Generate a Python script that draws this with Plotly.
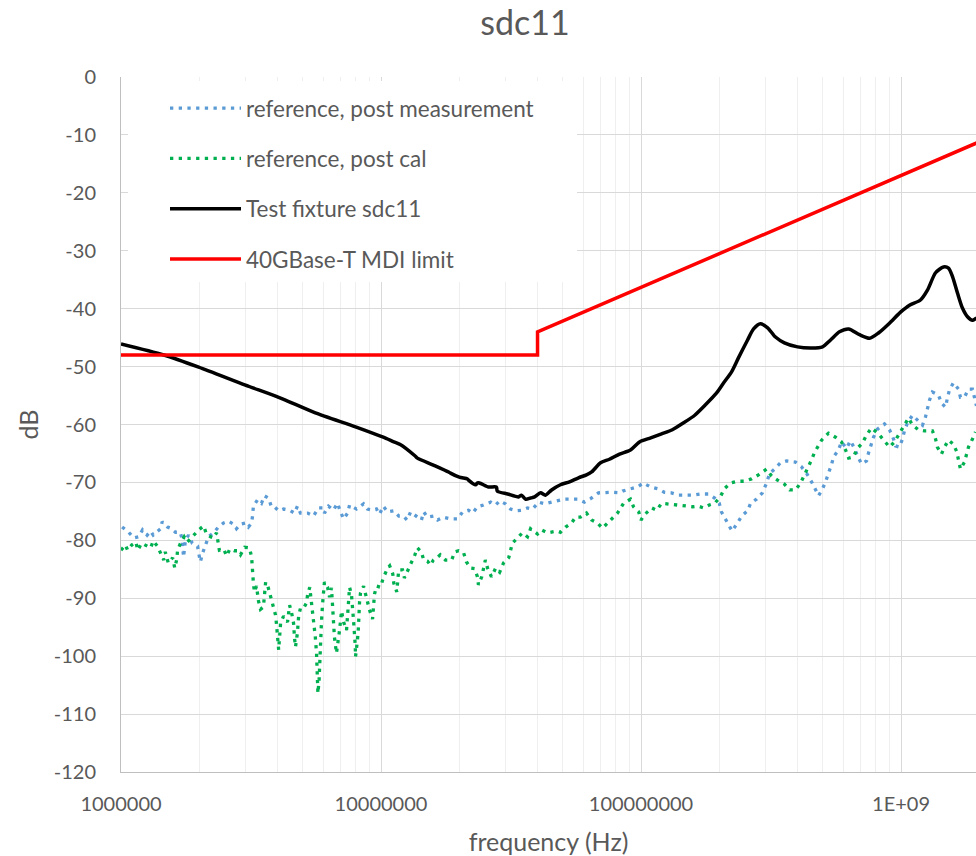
import plotly.graph_objects as go

# ---------------- data (frequency in MHz, sdc11 in dB) ----------------
ref_meas_freq_mhz = [
    1.01, 1.07, 1.12, 1.17, 1.21, 1.26, 1.30, 1.33, 1.42, 1.44, 1.51, 1.55, 1.62, 1.69, 1.72, 1.74,
    1.77, 1.82, 1.88, 1.97, 1.99, 2.02, 2.06, 2.11, 2.17, 2.27, 2.37, 2.48, 2.59, 2.71, 2.78, 2.88,
    3.01, 3.09, 3.18, 3.21, 3.23, 3.35, 3.47, 3.56, 3.69, 3.79, 3.89, 4.04, 4.22, 4.45, 4.65, 4.77,
    4.90, 5.22, 5.50, 5.75, 6.01, 6.06, 6.28, 6.56, 6.80, 6.99, 7.18, 7.44, 7.57, 8.05, 8.57, 8.87,
    9.28, 9.61, 9.87, 10.2, 10.6, 11.2, 11.7, 12.2, 12.6, 13.0, 13.7, 14.3, 14.6, 15.1, 15.9, 16.5,
    17.4, 18.5, 19.7, 20.6, 21.7, 22.5, 23.5, 24.8, 26.4, 27.6, 28.6, 30.1, 31.5, 33.2, 34.7, 36.6,
    38.3, 40.4, 42.6, 44.9, 47.3, 50.4, 54.1, 57.0, 60.6, 64.0, 68.6, 72.4, 77.0, 82.7, 84.9, 91.1,
    96.9, 102, 109, 116, 123, 131, 139, 150, 159, 169, 182, 192, 200, 204, 211, 219,
    224, 235, 244, 257, 264, 278, 293, 304, 312, 326, 344, 363, 393, 414, 433, 453,
    469, 482, 499, 513, 526, 540, 550, 575, 590, 617, 639, 662, 680, 705, 737, 750,
    784, 812, 864, 903, 936, 953, 987, 1013, 1031, 1059, 1107, 1157, 1210, 1242, 1264, 1287,
    1321, 1393, 1431, 1483, 1509, 1536, 1591, 1664, 1693, 1754, 1818, 1883, 1916, 1951,
]
ref_meas_db = [
    -77.7, -78.6, -79.6, -79.4, -78.2, -79.1, -78.4, -79.1, -78.0, -76.8, -77.7, -77.9, -78.6, -78.6, -79.9, -82.9,
    -79.9, -79.1, -80.5, -81.0, -82.2, -83.7, -82.2, -80.8, -79.4, -78.7, -77.7, -77.0, -76.7, -77.2, -78.0, -77.2,
    -77.0, -77.7, -77.0, -75.6, -74.1, -73.0, -73.6, -72.3, -72.7, -74.2, -74.2, -74.9, -74.6, -74.8, -75.3, -74.1,
    -75.3, -75.3, -75.8, -74.4, -74.4, -75.3, -74.1, -74.8, -73.6, -75.1, -76.3, -75.3, -73.9, -74.6, -73.7, -74.6,
    -74.8, -74.6, -75.5, -74.1, -75.1, -74.9, -75.8, -75.8, -76.5, -75.1, -75.8, -76.5, -75.1, -76.0, -75.8, -76.5,
    -76.0, -76.3, -76.3, -75.1, -74.8, -75.3, -74.2, -73.9, -73.4, -73.9, -73.2, -73.7, -74.6, -74.9, -74.8, -74.4,
    -74.6, -73.4, -73.7, -73.4, -73.2, -72.9, -72.9, -72.9, -73.4, -72.8, -71.8, -71.7, -71.7, -71.8, -71.5, -71.1,
    -70.8, -70.1, -70.8, -71.1, -71.7, -71.8, -72.2, -72.2, -72.2, -72.0, -72.0, -72.7, -73.6, -75.1, -76.3, -77.7,
    -78.4, -77.0, -75.8, -74.9, -73.6, -72.9, -71.8, -70.1, -68.5, -67.7, -66.6, -66.3, -66.5, -67.3, -68.4, -69.9,
    -71.1, -72.3, -71.1, -69.9, -68.4, -67.0, -65.6, -64.4, -63.0, -64.1, -62.8, -64.1, -65.4, -66.8, -66.3, -64.9,
    -62.2, -60.8, -59.9, -60.9, -62.5, -63.7, -63.9, -62.5, -61.1, -59.7, -58.4, -59.2, -60.1, -58.7, -57.2, -55.8,
    -54.4, -54.9, -56.3, -57.0, -55.4, -54.0, -52.8, -53.9, -55.3, -55.3, -53.9, -53.9, -55.3, -56.8,
]

ref_cal_freq_mhz = [
    1.00, 1.04, 1.06, 1.10, 1.14, 1.16, 1.20, 1.26, 1.30, 1.33, 1.38, 1.42, 1.46, 1.48, 1.52, 1.58,
    1.61, 1.64, 1.65, 1.69, 1.75, 1.80, 1.88, 1.93, 1.99, 2.08, 2.13, 2.21, 2.27, 2.33, 2.35, 2.39,
    2.48, 2.55, 2.62, 2.73, 2.81, 2.88, 2.99, 3.12, 3.18, 3.19, 3.21, 3.23, 3.26, 3.32, 3.38, 3.44,
    3.53, 3.60, 3.66, 3.72, 3.79, 3.86, 3.93, 3.96, 4.00, 4.01, 4.04, 4.11, 4.22, 4.37, 4.45, 4.53,
    4.61, 4.65, 4.69, 4.77, 4.82, 4.90, 5.04, 5.17, 5.22, 5.32, 5.46, 5.50, 5.59, 5.65, 5.68, 5.70,
    5.72, 5.78, 5.80, 5.85, 5.90, 5.96, 6.01, 6.06, 6.23, 6.34, 6.45, 6.51, 6.56, 6.62, 6.74, 6.80,
    6.93, 7.05, 7.18, 7.37, 7.44, 7.57, 7.70, 7.77, 7.84, 7.96, 7.98, 8.12, 8.19, 8.27, 8.34, 8.57,
    8.87, 9.03, 9.28, 9.44, 9.61, 9.96, 10.2, 10.6, 10.8, 11.1, 11.2, 11.5, 11.7, 12.1, 12.3, 12.6,
    13.0, 13.5, 13.8, 14.3, 14.6, 15.1, 15.5, 15.9, 16.5, 16.9, 17.7, 18.7, 19.2, 19.9, 20.8, 21.3,
    22.1, 22.9, 23.5, 23.7, 24.4, 25.2, 25.7, 26.6, 27.6, 28.6, 29.6, 31.0, 32.0, 33.8, 35.0, 36.6,
    37.6, 40.0, 41.4, 43.7, 45.7, 47.7, 49.0, 51.3, 54.1, 56.0, 58.5, 61.7, 64.6, 68.0, 71.1, 75.0,
    77.7, 81.2, 85.7, 91.1, 93.6, 98.0, 100, 103, 110, 115, 120, 125, 135, 143, 151, 158,
    166, 174, 183, 192, 202, 209, 221, 235, 250, 266, 283, 304, 318, 335, 356, 373,
    393, 411, 426, 437, 453, 464, 495, 526, 560, 590, 612, 629, 656, 680, 711, 737,
    770, 819, 856, 903, 944, 987, 1022, 1069, 1107, 1167, 1231, 1321, 1358, 1380, 1431, 1470,
    1523, 1591, 1638, 1664, 1693, 1754, 1818, 1883, 1934,
]
ref_cal_db = [
    -81.7, -80.8, -81.7, -80.8, -80.3, -81.7, -80.5, -81.0, -81.3, -80.1, -81.0, -82.2, -83.4, -82.0, -83.9, -83.0,
    -84.8, -83.2, -81.7, -80.6, -79.4, -80.3, -79.4, -78.7, -78.2, -77.5, -78.9, -79.4, -79.6, -78.7, -80.1, -81.7,
    -81.5, -82.7, -81.5, -81.8, -81.8, -82.5, -81.2, -81.3, -82.9, -84.4, -86.0, -87.4, -88.9, -87.9, -90.5, -91.9,
    -91.5, -87.2, -87.7, -88.9, -90.6, -91.5, -92.9, -94.3, -96.0, -97.6, -98.9, -94.3, -93.1, -94.1, -91.2, -92.5,
    -94.3, -96.9, -98.4, -96.0, -93.2, -91.7, -91.7, -90.8, -89.4, -88.1, -92.4, -93.8, -96.7, -99.5, -102.4, -105.3,
    -106.4, -104.1, -101.9, -98.4, -94.3, -91.0, -89.1, -87.2, -88.1, -89.8, -88.2, -91.0, -94.1, -96.7, -99.5, -98.4,
    -95.5, -92.2, -94.1, -95.5, -92.5, -88.1, -89.4, -91.2, -93.8, -98.1, -100.1, -97.2, -95.0, -90.6, -89.1, -87.9,
    -90.8, -92.0, -93.6, -89.3, -87.9, -88.1, -86.5, -84.8, -84.4, -85.8, -87.4, -88.9, -85.1, -85.1, -86.5, -85.5,
    -84.3, -82.5, -81.3, -82.0, -83.4, -83.6, -84.3, -83.4, -82.9, -82.5, -83.4, -83.4, -82.0, -81.8, -82.2, -83.7,
    -84.8, -84.9, -86.3, -87.7, -86.3, -83.4, -84.8, -86.3, -84.8, -85.5, -83.9, -83.0, -80.5, -79.4, -78.7, -79.4,
    -78.0, -78.9, -78.2, -78.7, -78.6, -78.4, -78.6, -77.7, -77.0, -76.0, -76.0, -75.3, -76.5, -77.0, -77.9, -76.8,
    -76.0, -75.3, -73.6, -72.9, -74.2, -75.1, -76.5, -75.6, -74.4, -74.8, -73.6, -73.7, -73.9, -74.1, -74.1, -74.2,
    -74.1, -74.4, -73.9, -73.6, -72.5, -71.1, -70.1, -69.8, -69.8, -69.4, -68.7, -67.7, -68.9, -69.6, -70.3, -71.3,
    -71.3, -70.1, -68.7, -67.5, -66.1, -64.9, -62.7, -61.5, -62.2, -63.0, -64.4, -65.8, -65.6, -64.1, -63.2, -61.8,
    -60.6, -61.6, -62.7, -63.9, -63.0, -61.5, -60.4, -58.9, -60.1, -60.9, -61.1, -61.1, -62.5, -63.9, -65.1, -63.9,
    -62.7, -63.4, -64.7, -66.5, -67.7, -66.5, -63.9, -62.5, -61.3,
]

fixture_freq_mhz = [
    1.00, 1.46, 1.99, 3.01, 4.04, 5.59, 7.98, 10.2, 11.2, 11.9, 13.5, 13.8, 15.9, 18.2, 18.5, 20.0,
    21.5, 21.7, 23.1, 23.5, 23.9, 25.9, 26.4, 27.8, 28.0, 30.7, 33.8, 34.7, 36.0, 37.6, 39.0, 41.1,
    42.9, 45.3, 49.0, 53.1, 57.5, 61.7, 64.6, 69.9, 75.6, 82.7, 91.1, 98.7, 109, 120,
    132, 146, 161, 177, 195, 208, 223, 237, 257, 271, 288, 307, 329, 356, 400, 453,
    499, 536, 580, 629, 693, 757, 819, 903, 996, 1078, 1188, 1264, 1358, 1457, 1523, 1579,
    1649, 1723, 1802, 1883, 1951,
]
fixture_db = [
    -46.1, -48.0, -50.1, -53.2, -55.3, -58.0, -60.4, -62.2, -63.0, -63.5, -65.4, -65.8, -67.0, -68.2, -68.4, -69.1,
    -69.4, -69.6, -70.4, -70.1, -70.1, -70.8, -70.8, -70.8, -71.5, -72.0, -72.5, -72.2, -72.9, -72.7, -72.5, -71.8,
    -72.2, -71.3, -70.4, -69.9, -69.2, -68.7, -68.2, -66.6, -66.0, -65.1, -64.4, -63.0, -62.3, -61.6,
    -60.9, -59.7, -58.4, -56.6, -54.6, -52.8, -50.9, -48.5, -45.4, -43.5, -42.6, -43.3, -44.9, -45.9, -46.6, -46.8,
    -46.6, -45.4, -44.0, -43.5, -44.5, -45.1, -44.2, -42.5, -40.6, -39.4, -38.5, -36.8, -33.8, -32.8, -33.0, -34.5,
    -37.3, -39.9, -41.4, -42.0, -41.6,
]

limit_freq_mhz = [1, 40, 40, 2000]
limit_db = [-48, -48, -44, -11.2]

series_names = [
    "reference, post measurement",
    "reference, post cal",
    "Test fixture sdc11",
    "40GBase-T MDI limit",
]

x_tick_vals = [1e6, 1e7, 1e8, 1e9]
x_tick_text = ["1000000", "10000000", "100000000", "1E+09"]
y_tick_vals = [0, -10, -20, -30, -40, -50, -60, -70, -80, -90, -100, -110, -120]
y_tick_text = ["0", "-10", "-20", "-30", "-40", "-50", "-60", "-70", "-80", "-90", "-100", "-110", "-120"]

# ---------------- figure ----------------
MHZ = 1e6
FONT = "Lato"
GREY = "#595959"


def hz(vals):
    return [v * MHZ for v in vals]


DOT = dict(width=3.3, dash="3.3px,5.4px")

fig = go.Figure()

fig.add_trace(go.Scatter(
    x=hz(ref_meas_freq_mhz), y=ref_meas_db, mode="lines", name=series_names[0],
    legendgroup="a", line=dict(color="#5B9BD5", **DOT),
))
fig.add_trace(go.Scatter(
    x=hz(ref_cal_freq_mhz), y=ref_cal_db, mode="lines", name=series_names[1],
    legendgroup="b", line=dict(color="#00B050", **DOT),
))
fig.add_trace(go.Scatter(
    x=hz(fixture_freq_mhz), y=fixture_db, mode="lines", name=series_names[2],
    legendgroup="c", line=dict(color="#000000", width=3.5, shape="spline", smoothing=0.7),
))
fig.add_trace(go.Scatter(
    x=hz(limit_freq_mhz), y=limit_db, mode="lines", name=series_names[3],
    legendgroup="d", line=dict(color="#FF0000", width=3.5),
))

minor_vals = [m * 10 ** k for k in range(6, 10) for m in range(2, 10)]

fig.update_layout(
    width=976, height=856,
    margin=dict(l=121, r=0, t=77, b=84),
    paper_bgcolor="white", plot_bgcolor="white",
    font=dict(family=FONT, color=GREY, size=20),
    title=dict(text="sdc11", x=525 / 976, xref="container", xanchor="center",
               y=1 - 23 / 856, yref="container", yanchor="middle",
               font=dict(family=FONT, size=34, color=GREY)),
    showlegend=True,
    legend=dict(x=(165 - 121) / 855, xanchor="left", y=1 - (87 - 77) / 695, yanchor="top",
                bgcolor="rgba(0,0,0,0)", borderwidth=0, itemwidth=71, tracegroupgap=18,
                font=dict(family=FONT, size=22.5, color=GREY), traceorder="grouped"),
    shapes=[dict(type="rect", xref="paper", yref="paper",
                 x0=(128 - 121) / 855, x1=(577 - 121) / 855,
                 y0=1 - (282 - 77) / 695, y1=1 - (81 - 77) / 695,
                 fillcolor="white", line=dict(width=0), layer="above")],
)

fig.update_xaxes(
    type="log", range=[6, 6 + 855 / 260],
    tickmode="array", tickvals=x_tick_vals, ticktext=x_tick_text,
    showgrid=True, gridcolor="#d9d9d9", gridwidth=1,
    minor=dict(tickmode="array", tickvals=minor_vals, showgrid=True, gridcolor="#efefef", gridwidth=1, ticks=""),
    showline=True, linecolor="#bfbfbf", linewidth=1,
    ticks="", ticklabelstandoff=14, zeroline=False,
    tickfont=dict(family=FONT, size=20, color=GREY),
    title=dict(text="frequency (Hz)", standoff=20, font=dict(family=FONT, size=25, color=GREY)),
)
fig.update_yaxes(
    range=[-120, 0], tickmode="array", tickvals=y_tick_vals, ticktext=y_tick_text,
    showgrid=True, gridcolor="#d9d9d9", gridwidth=1,
    showline=True, linecolor="#bfbfbf", linewidth=1,
    ticks="", ticklabelstandoff=20, zeroline=False,
    tickfont=dict(family=FONT, size=20, color=GREY),
    title=dict(text="dB", standoff=8, font=dict(family=FONT, size=25, color=GREY)),
)

fig.write_html(
    "out.html",
    config={"displayModeBar": False},
    post_script="document.body.style.margin='0';document.body.style.overflow='hidden';",
)
